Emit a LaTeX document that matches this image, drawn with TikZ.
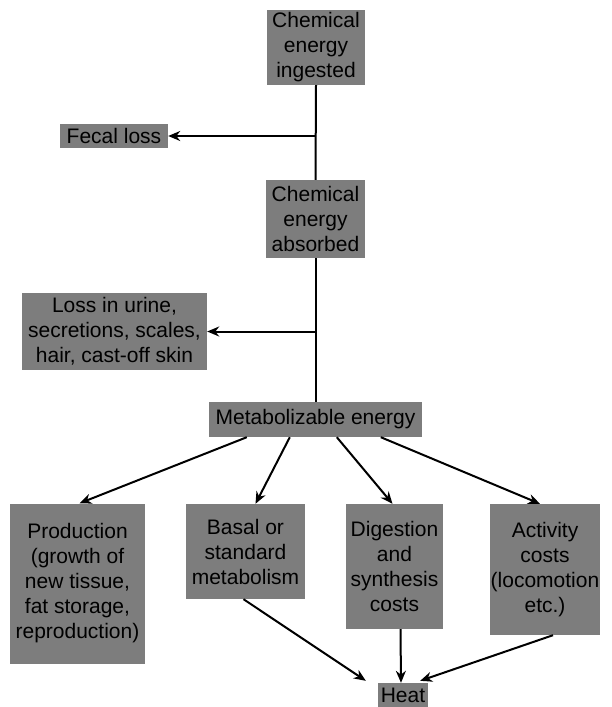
\documentclass[tikz,border=0pt]{standalone}
\usepackage{fontspec}
\setmainfont{Liberation Sans}
\usetikzlibrary{arrows.meta,calc}
\definecolor{boxgray}{RGB}{125,125,125}
\tikzset{
  box/.style={fill=boxgray, draw=none, inner sep=0pt, align=center,
    font=\fontsize{21}{25}\selectfont, anchor=center},
  conn/.style={line width=2pt, black},
  arr/.style={conn, -{Stealth[length=12pt,width=10pt]}}
}
\begin{document}
\begin{tikzpicture}[x=1pt,y=-1pt]
\useasboundingbox[fill=white] (0,0) rectangle (612,707);
\node[box, minimum width=98pt, minimum height=75pt] (ing) at (316,47.5) {Chemical\\energy\\ingested};
\node[box, minimum width=108pt, minimum height=24pt] (fecal) at (114,136) {Fecal loss};
\node[box, minimum width=99pt, minimum height=78pt] (abs) at (315.5,219) {Chemical\\energy\\absorbed};
\node[box, minimum width=185pt, minimum height=77pt] (loss) at (114.5,331.5) {Loss in urine,\\secretions, scales,\\hair, cast-off skin};
\node[box, minimum width=213pt, minimum height=35pt] (met) at (315.5,419.5) {Metabolizable energy};
\node[box, minimum width=135pt, minimum height=160pt] (prod) at (77.5,583.5) {Production\\(growth of\\new tissue,\\fat storage,\\reproduction)};
\node[box, minimum width=119pt, minimum height=95pt] (basal) at (245.5,551.5) {Basal or\\standard\\metabolism};
\node[box, minimum width=97pt, minimum height=125pt] (dig) at (394.5,566.5) {Digestion\\and\\synthesis\\costs};
\node[box, minimum width=110pt, minimum height=131pt] (act) at (545,569.5) {Activity\\costs\\(locomotion\\etc.)};
\node[box, minimum width=50pt, minimum height=24pt] (heat) at (403,695) {Heat};

% main trunk
\draw[conn] (ing.south) -- (abs.north);
\draw[conn] (abs.south) -- (met.north);
\coordinate (j1) at (ing.south |- fecal.east);
\coordinate (j2) at (abs.south |- loss.east);
\draw[arr] (j1) -- (fecal.east);
\draw[arr] (j2) -- (loss.east);

% from metabolizable energy
\coordinate (m1) at ($(met.south west)+(38,0)$);
\coordinate (m2) at ($(met.south west)+(81,0)$);
\coordinate (m3) at ($(met.south west)+(128,0)$);
\coordinate (m4) at ($(met.south west)+(172,0)$);
\draw[arr] (m1) -- ($(prod.north)+(2,0)$);
\draw[arr] (m2) -- ($(basal.north)+(10,0)$);
\draw[arr] (m3) -- ($(dig.north)+(-2,0)$);
\draw[arr] (m4) -- ($(act.north)+(-5,0)$);

% to heat
\draw[arr] ($(basal.south)+(-2,0)$) -- ($(heat.north west)+(-12,-2)$);
\draw[arr] ($(dig.south)+(6,0)$) -- ($(heat.north)+(-2,0)$);
\draw[arr] ($(act.south)+(8,0)$) -- ($(heat.north east)+(-8,-2)$);
\end{tikzpicture}
\end{document}
